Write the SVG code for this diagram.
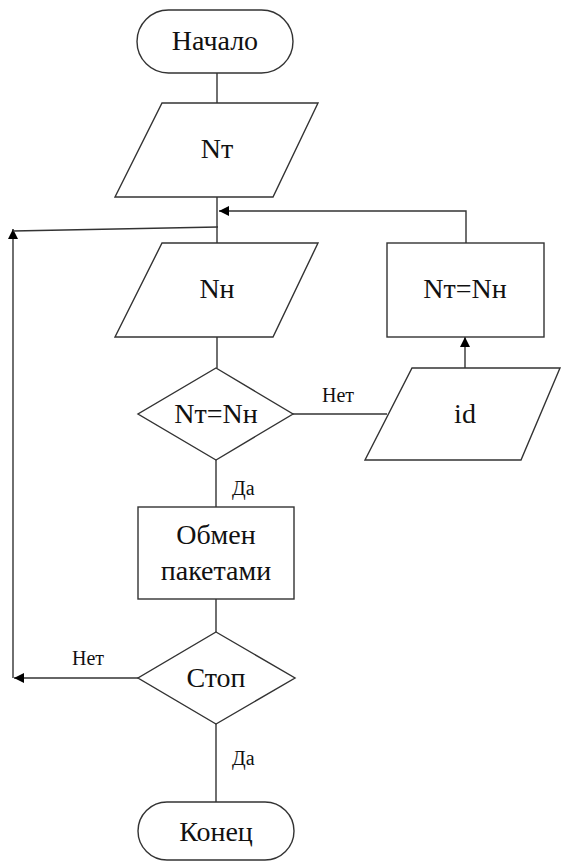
<svg xmlns="http://www.w3.org/2000/svg" width="562" height="862" viewBox="0 0 562 862">
  <style>
    .shape { fill: #ffffff; stroke: #333333; stroke-width: 1.4; }
    .line { fill: none; stroke: #333333; stroke-width: 1.4; }
    .txt { font-family: 'Liberation Serif', 'DejaVu Serif', serif; font-size: 28px; fill: #111111; text-anchor: middle; }
    .lbl { font-family: 'Liberation Serif', 'DejaVu Serif', serif; font-size: 20px; fill: #111111; }
  </style>
  <defs>
    <marker id="arrow" viewBox="0 0 10 10" refX="10" refY="5" markerWidth="11" markerHeight="10" markerUnits="userSpaceOnUse" orient="auto">
      <path d="M0,0 L10,5 L0,10 z" fill="#000000"/>
    </marker>
  </defs>
  <rect width="562" height="862" fill="#ffffff"/>

  <!-- connectors -->
  <g id="connectors">
    <line class="line" x1="217" y1="73" x2="217" y2="103"/>
    <line class="line" x1="217" y1="197" x2="217" y2="243"/>
    <line class="line" x1="217" y1="337" x2="217" y2="368"/>
    <line class="line" x1="216" y1="460" x2="216" y2="507"/>
    <line class="line" x1="216" y1="599" x2="216" y2="632"/>
    <line class="line" x1="216" y1="724" x2="216" y2="802"/>
    <!-- Нет branch to id -->
    <line class="line" x1="293" y1="414" x2="387" y2="414"/>
    <!-- id up to assignment box -->
    <line class="line" x1="465" y1="368" x2="465" y2="337" marker-end="url(#arrow)"/>
    <!-- assignment box back to main flow -->
    <polyline class="line" points="466,243 466,211 219,211" marker-end="url(#arrow)"/>
    <!-- loop from Стоп back to the top -->
    <line class="line" x1="138" y1="678" x2="14" y2="678" marker-end="url(#arrow)"/>
    <line class="line" x1="13" y1="678" x2="13" y2="229" marker-end="url(#arrow)"/>
    <line class="line" x1="13" y1="231" x2="218" y2="227"/>
    <text class="lbl" x="322" y="402">Нет</text>
    <text class="lbl" x="232" y="495">Да</text>
    <text class="lbl" x="72" y="665">Нет</text>
    <text class="lbl" x="232" y="765">Да</text>
  </g>

  <g id="start">
    <rect class="shape" x="137" y="10" width="156" height="63" rx="31.5" ry="31.5"/>
    <text class="txt" x="215" y="50">Начало</text>
  </g>

  <g id="input-nt">
    <polygon class="shape" points="162,103 318,103 273,197 115,197"/>
    <text class="txt" x="217" y="158">Nт</text>
  </g>

  <g id="input-nn">
    <polygon class="shape" points="162,243 318,243 273,337 115,337"/>
    <text class="txt" x="217" y="298">Nн</text>
  </g>

  <g id="check-equal">
    <polygon class="shape" points="216,368 293,414 216,460 138,414"/>
    <text class="txt" x="216" y="423">Nт=Nн</text>
  </g>

  <g id="input-id">
    <polygon class="shape" points="412,368 560,368 521,460 365,460"/>
    <text class="txt" x="465" y="423">id</text>
  </g>

  <g id="assign">
    <rect class="shape" x="387" y="243" width="157" height="94"/>
    <text class="txt" x="465" y="298">Nт=Nн</text>
  </g>

  <g id="exchange">
    <rect class="shape" x="138" y="507" width="156" height="92"/>
    <text class="txt" x="216" y="544">Обмен</text>
    <text class="txt" x="216" y="580">пакетами</text>
  </g>

  <g id="stop-check">
    <polygon class="shape" points="216,632 295,678 216,724 138,678"/>
    <text class="txt" x="216" y="687">Стоп</text>
  </g>

  <g id="end">
    <rect class="shape" x="138" y="802" width="156" height="58" rx="29" ry="29"/>
    <text class="txt" x="216" y="841">Конец</text>
  </g>
</svg>
